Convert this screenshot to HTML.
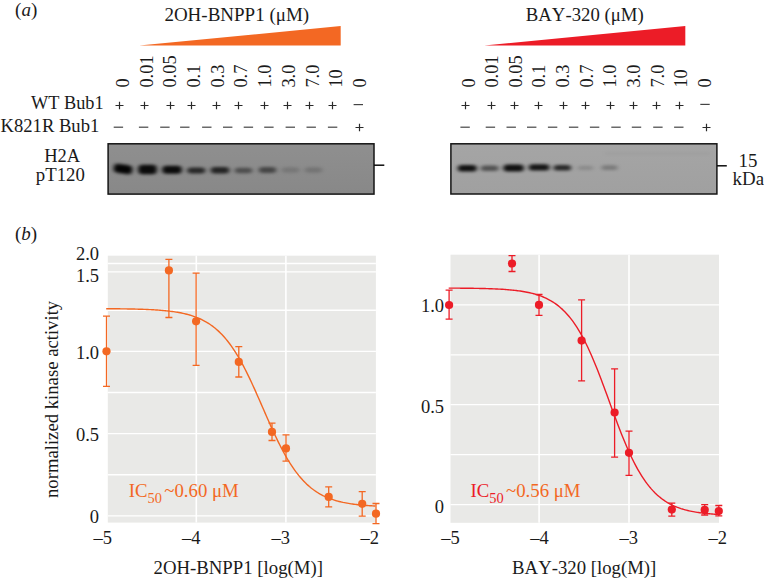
<!DOCTYPE html>
<html><head><meta charset="utf-8"><style>
html,body{margin:0;padding:0;background:#fff;}
svg{display:block;font-family:"Liberation Serif", serif;font-kerning:none;}
</style></head><body>
<svg width="764" height="578" viewBox="0 0 764 578">
<text x="15.10" y="15.80" font-size="19" text-anchor="start" fill="#1a1a1a" >(<tspan font-style="italic">a</tspan>)</text>
<text x="164.40" y="20.90" font-size="19" text-anchor="start" fill="#1a1a1a" >2OH-BNPP1 (μM)</text>
<text x="525.80" y="20.60" font-size="18.75" text-anchor="start" fill="#1a1a1a" >BAY-320 (μM)</text>
<polygon points="139.2,45.5 340.7,26 340.7,45.5" fill="#f36823"/>
<polygon points="484.2,45.5 685.3,26 685.3,45.5" fill="#ec1c27"/>
<text transform="translate(128.80,87.60) rotate(-90)" font-size="18.4" fill="#1a1a1a">0</text>
<text transform="translate(474.50,87.60) rotate(-90)" font-size="18.4" fill="#1a1a1a">0</text>
<text transform="translate(152.52,87.60) rotate(-90)" font-size="18.4" fill="#1a1a1a">0.01</text>
<text transform="translate(498.14,87.60) rotate(-90)" font-size="18.4" fill="#1a1a1a">0.01</text>
<text transform="translate(176.24,87.60) rotate(-90)" font-size="18.4" fill="#1a1a1a">0.05</text>
<text transform="translate(521.78,87.60) rotate(-90)" font-size="18.4" fill="#1a1a1a">0.05</text>
<text transform="translate(199.96,87.60) rotate(-90)" font-size="18.4" fill="#1a1a1a">0.1</text>
<text transform="translate(545.42,87.60) rotate(-90)" font-size="18.4" fill="#1a1a1a">0.1</text>
<text transform="translate(223.68,87.60) rotate(-90)" font-size="18.4" fill="#1a1a1a">0.3</text>
<text transform="translate(569.06,87.60) rotate(-90)" font-size="18.4" fill="#1a1a1a">0.3</text>
<text transform="translate(247.40,87.60) rotate(-90)" font-size="18.4" fill="#1a1a1a">0.7</text>
<text transform="translate(592.70,87.60) rotate(-90)" font-size="18.4" fill="#1a1a1a">0.7</text>
<text transform="translate(271.12,87.60) rotate(-90)" font-size="18.4" fill="#1a1a1a">1.0</text>
<text transform="translate(616.34,87.60) rotate(-90)" font-size="18.4" fill="#1a1a1a">1.0</text>
<text transform="translate(294.84,87.60) rotate(-90)" font-size="18.4" fill="#1a1a1a">3.0</text>
<text transform="translate(639.98,87.60) rotate(-90)" font-size="18.4" fill="#1a1a1a">3.0</text>
<text transform="translate(318.56,87.60) rotate(-90)" font-size="18.4" fill="#1a1a1a">7.0</text>
<text transform="translate(663.62,87.60) rotate(-90)" font-size="18.4" fill="#1a1a1a">7.0</text>
<text transform="translate(342.28,87.60) rotate(-90)" font-size="18.4" fill="#1a1a1a">10</text>
<text transform="translate(687.26,87.60) rotate(-90)" font-size="18.4" fill="#1a1a1a">10</text>
<text transform="translate(366.00,87.60) rotate(-90)" font-size="18.4" fill="#1a1a1a">0</text>
<text transform="translate(710.90,87.60) rotate(-90)" font-size="18.4" fill="#1a1a1a">0</text>
<path d="M115.50 105.50H123.50M119.50 101.70V109.30" stroke="#2a2a2a" stroke-width="1.2" fill="none"/>
<path d="M140.50 105.50H148.50M144.50 101.70V109.30" stroke="#2a2a2a" stroke-width="1.2" fill="none"/>
<path d="M166.50 105.50H174.50M170.50 101.70V109.30" stroke="#2a2a2a" stroke-width="1.2" fill="none"/>
<path d="M187.50 105.50H195.50M191.50 101.70V109.30" stroke="#2a2a2a" stroke-width="1.2" fill="none"/>
<path d="M212.50 105.50H220.50M216.50 101.70V109.30" stroke="#2a2a2a" stroke-width="1.2" fill="none"/>
<path d="M234.50 105.50H242.50M238.50 101.70V109.30" stroke="#2a2a2a" stroke-width="1.2" fill="none"/>
<path d="M260.50 105.50H268.50M264.50 101.70V109.30" stroke="#2a2a2a" stroke-width="1.2" fill="none"/>
<path d="M283.50 105.50H291.50M287.50 101.70V109.30" stroke="#2a2a2a" stroke-width="1.2" fill="none"/>
<path d="M305.50 105.50H313.50M309.50 101.70V109.30" stroke="#2a2a2a" stroke-width="1.2" fill="none"/>
<path d="M328.50 105.50H336.50M332.50 101.70V109.30" stroke="#2a2a2a" stroke-width="1.2" fill="none"/>
<path d="M353.60 104.60H363.00" stroke="#444" stroke-width="1.2" fill="none"/>
<path d="M113.70 127.20H123.10" stroke="#444" stroke-width="1.2" fill="none"/>
<path d="M138.90 127.20H148.30" stroke="#444" stroke-width="1.2" fill="none"/>
<path d="M160.20 127.20H169.60" stroke="#444" stroke-width="1.2" fill="none"/>
<path d="M180.10 127.20H189.50" stroke="#444" stroke-width="1.2" fill="none"/>
<path d="M202.10 127.20H211.50" stroke="#444" stroke-width="1.2" fill="none"/>
<path d="M223.00 127.20H232.40" stroke="#444" stroke-width="1.2" fill="none"/>
<path d="M243.70 127.20H253.10" stroke="#444" stroke-width="1.2" fill="none"/>
<path d="M264.20 127.20H273.60" stroke="#444" stroke-width="1.2" fill="none"/>
<path d="M285.60 127.20H295.00" stroke="#444" stroke-width="1.2" fill="none"/>
<path d="M306.50 127.20H315.90" stroke="#444" stroke-width="1.2" fill="none"/>
<path d="M327.90 127.20H337.30" stroke="#444" stroke-width="1.2" fill="none"/>
<path d="M355.50 127.50H363.50M359.50 123.70V131.30" stroke="#2a2a2a" stroke-width="1.2" fill="none"/>
<path d="M461.50 105.50H469.50M465.50 101.70V109.30" stroke="#2a2a2a" stroke-width="1.2" fill="none"/>
<path d="M487.50 105.50H495.50M491.50 101.70V109.30" stroke="#2a2a2a" stroke-width="1.2" fill="none"/>
<path d="M510.50 105.50H518.50M514.50 101.70V109.30" stroke="#2a2a2a" stroke-width="1.2" fill="none"/>
<path d="M534.50 105.50H542.50M538.50 101.70V109.30" stroke="#2a2a2a" stroke-width="1.2" fill="none"/>
<path d="M559.50 105.50H567.50M563.50 101.70V109.30" stroke="#2a2a2a" stroke-width="1.2" fill="none"/>
<path d="M581.50 105.50H589.50M585.50 101.70V109.30" stroke="#2a2a2a" stroke-width="1.2" fill="none"/>
<path d="M606.50 105.50H614.50M610.50 101.70V109.30" stroke="#2a2a2a" stroke-width="1.2" fill="none"/>
<path d="M629.50 105.50H637.50M633.50 101.70V109.30" stroke="#2a2a2a" stroke-width="1.2" fill="none"/>
<path d="M652.50 105.50H660.50M656.50 101.70V109.30" stroke="#2a2a2a" stroke-width="1.2" fill="none"/>
<path d="M675.50 105.50H683.50M679.50 101.70V109.30" stroke="#2a2a2a" stroke-width="1.2" fill="none"/>
<path d="M700.30 104.40H709.70" stroke="#444" stroke-width="1.2" fill="none"/>
<path d="M460.40 127.20H469.80" stroke="#444" stroke-width="1.2" fill="none"/>
<path d="M485.70 127.20H495.10" stroke="#444" stroke-width="1.2" fill="none"/>
<path d="M506.50 127.20H515.90" stroke="#444" stroke-width="1.2" fill="none"/>
<path d="M527.00 127.20H536.40" stroke="#444" stroke-width="1.2" fill="none"/>
<path d="M547.90 127.20H557.30" stroke="#444" stroke-width="1.2" fill="none"/>
<path d="M568.90 127.20H578.30" stroke="#444" stroke-width="1.2" fill="none"/>
<path d="M589.90 127.20H599.30" stroke="#444" stroke-width="1.2" fill="none"/>
<path d="M611.30 127.20H620.70" stroke="#444" stroke-width="1.2" fill="none"/>
<path d="M631.80 127.20H641.20" stroke="#444" stroke-width="1.2" fill="none"/>
<path d="M653.20 127.20H662.60" stroke="#444" stroke-width="1.2" fill="none"/>
<path d="M674.10 127.20H683.50" stroke="#444" stroke-width="1.2" fill="none"/>
<path d="M702.50 127.50H710.50M706.50 123.70V131.30" stroke="#2a2a2a" stroke-width="1.2" fill="none"/>
<text x="31.00" y="108.70" font-size="18.3" text-anchor="start" fill="#1a1a1a" >WT Bub1</text>
<text x="0.60" y="131.70" font-size="18.6" text-anchor="start" fill="#1a1a1a" >K821R Bub1</text>
<text x="44.20" y="162.20" font-size="18.5" text-anchor="start" fill="#1a1a1a" >H2A</text>
<text x="35.80" y="180.60" font-size="18.8" text-anchor="start" fill="#1a1a1a" >pT120</text>
<defs><linearGradient id="g1" x1="0" y1="0" x2="0" y2="1"><stop offset="0" stop-color="#8f8f8f"/><stop offset="1" stop-color="#888888"/></linearGradient><filter id="f1" x="-50%" y="-100%" width="200%" height="300%"><feGaussianBlur stdDeviation="2.1 1.6"/></filter></defs>
<rect x="108.1" y="143.8" width="265.9" height="50.29999999999998" fill="url(#g1)"/>
<rect x="113.70" y="164.50" width="18.60" height="9.10" rx="4" fill="#000" fill-opacity="0.97" transform="rotate(8 123.00 169.05)" filter="url(#f1)"/>
<rect x="138.20" y="164.70" width="18.60" height="9.60" rx="4" fill="#000" fill-opacity="0.92" transform="rotate(0 147.50 169.50)" filter="url(#f1)"/>
<rect x="162.20" y="165.70" width="19.60" height="8.10" rx="4" fill="#000" fill-opacity="0.92" transform="rotate(0 172.00 169.75)" filter="url(#f1)"/>
<rect x="187.20" y="167.50" width="18.10" height="6.10" rx="4" fill="#000" fill-opacity="0.72" transform="rotate(0 196.25 170.55)" filter="url(#f1)"/>
<rect x="210.70" y="167.00" width="18.60" height="6.60" rx="4" fill="#000" fill-opacity="0.75" transform="rotate(0 220.00 170.30)" filter="url(#f1)"/>
<rect x="234.70" y="167.70" width="17.60" height="5.60" rx="4" fill="#000" fill-opacity="0.45" transform="rotate(0 243.50 170.50)" filter="url(#f1)"/>
<rect x="258.70" y="167.00" width="17.60" height="6.10" rx="4" fill="#000" fill-opacity="0.5" transform="rotate(0 267.50 170.05)" filter="url(#f1)"/>
<rect x="281.70" y="167.20" width="17.60" height="5.50" rx="4" fill="#000" fill-opacity="0.15" transform="rotate(0 290.50 169.95)" filter="url(#f1)"/>
<rect x="304.70" y="167.20" width="17.60" height="5.50" rx="4" fill="#000" fill-opacity="0.17" transform="rotate(0 313.50 169.95)" filter="url(#f1)"/>
<rect x="108.1" y="143.8" width="265.9" height="50.29999999999998" fill="none" stroke="#141414" stroke-width="1.5"/>
<path d="M374 165.2H384.3" stroke="#0d0d0d" stroke-width="1.5"/>
<defs><linearGradient id="g2" x1="0" y1="0" x2="0" y2="1"><stop offset="0" stop-color="#a5a5a5"/><stop offset="1" stop-color="#a0a0a0"/></linearGradient><filter id="f2" x="-50%" y="-100%" width="200%" height="300%"><feGaussianBlur stdDeviation="2.1 1.6"/></filter></defs>
<rect x="450.9" y="143.8" width="266.0" height="50.19999999999999" fill="url(#g2)"/>
<rect x="457.70" y="164.90" width="19.10" height="6.70" rx="4" fill="#000" fill-opacity="0.9" transform="rotate(0 467.25 168.25)" filter="url(#f2)"/>
<rect x="480.70" y="165.50" width="17.90" height="5.60" rx="4" fill="#000" fill-opacity="0.5" transform="rotate(0 489.65 168.30)" filter="url(#f2)"/>
<rect x="503.30" y="164.40" width="20.60" height="7.20" rx="4" fill="#000" fill-opacity="0.9" transform="rotate(0 513.60 168.00)" filter="url(#f2)"/>
<rect x="528.70" y="164.30" width="20.80" height="6.20" rx="4" fill="#000" fill-opacity="0.88" transform="rotate(0 539.10 167.40)" filter="url(#f2)"/>
<rect x="553.50" y="164.90" width="17.60" height="5.70" rx="4" fill="#000" fill-opacity="0.76" transform="rotate(0 562.30 167.75)" filter="url(#f2)"/>
<rect x="577.70" y="165.70" width="15.60" height="4.40" rx="4" fill="#000" fill-opacity="0.15" transform="rotate(0 585.50 167.90)" filter="url(#f2)"/>
<rect x="601.30" y="165.20" width="16.30" height="4.90" rx="4" fill="#000" fill-opacity="0.25" transform="rotate(0 609.45 167.65)" filter="url(#f2)"/>
<rect x="450.9" y="143.8" width="266.0" height="50.19999999999999" fill="none" stroke="#141414" stroke-width="1.5"/>
<rect x="605" y="152.5" width="105" height="2" fill="#000" fill-opacity="0.05" filter="url(#f2)"/>
<path d="M717 165.8H726.8" stroke="#0d0d0d" stroke-width="1.5"/>
<text x="738.60" y="167.00" font-size="18.9" text-anchor="start" fill="#1a1a1a" >15</text>
<text x="732.60" y="184.90" font-size="18.9" text-anchor="start" fill="#1a1a1a" >kDa</text>
<text x="15.00" y="240.30" font-size="19" text-anchor="start" fill="#1a1a1a" >(<tspan font-style="italic">b</tspan>)</text>
<rect x="107.8" y="255.7" width="268.09999999999997" height="266.90000000000003" fill="#e9e9e7"/>
<path d="M107.8 515.9H375.9" stroke="#fff" stroke-width="1.35"/>
<path d="M107.8 474.7H375.9" stroke="#fff" stroke-width="1.35"/>
<path d="M107.8 433.6H375.9" stroke="#fff" stroke-width="1.35"/>
<path d="M107.8 392.5H375.9" stroke="#fff" stroke-width="1.35"/>
<path d="M107.8 351.3H375.9" stroke="#fff" stroke-width="1.35"/>
<path d="M107.8 310.2H375.9" stroke="#fff" stroke-width="1.35"/>
<path d="M107.8 271.9H375.9" stroke="#fff" stroke-width="1.35"/>
<path d="M107.8 263.5H375.9" stroke="#fff" stroke-width="1.35"/>
<path d="M196.3 255.7V522.6" stroke="#fff" stroke-width="1.6"/>
<path d="M285.9 255.7V522.6" stroke="#fff" stroke-width="1.6"/>
<polyline points="106.18,308.69 107.53,308.70 108.88,308.71 110.22,308.72 111.57,308.73 112.91,308.75 114.26,308.76 115.61,308.77 116.95,308.78 118.30,308.80 119.64,308.82 120.99,308.83 122.34,308.85 123.68,308.87 125.03,308.89 126.38,308.91 127.72,308.93 129.07,308.96 130.41,308.98 131.76,309.01 133.11,309.04 134.45,309.07 135.80,309.11 137.14,309.14 138.49,309.18 139.84,309.22 141.18,309.26 142.53,309.31 143.87,309.36 145.22,309.41 146.57,309.46 147.91,309.52 149.26,309.58 150.60,309.65 151.95,309.72 153.30,309.79 154.64,309.87 155.99,309.95 157.34,310.04 158.68,310.14 160.03,310.24 161.37,310.35 162.72,310.46 164.07,310.58 165.41,310.71 166.76,310.85 168.10,311.00 169.45,311.15 170.80,311.32 172.14,311.49 173.49,311.68 174.83,311.87 176.18,312.08 177.53,312.31 178.87,312.54 180.22,312.79 181.56,313.06 182.91,313.34 184.26,313.64 185.60,313.96 186.95,314.30 188.29,314.66 189.64,315.04 190.99,315.44 192.33,315.87 193.68,316.32 195.03,316.80 196.37,317.31 197.72,317.84 199.06,318.41 200.41,319.01 201.76,319.64 203.10,320.32 204.45,321.03 205.79,321.77 207.14,322.56 208.49,323.40 209.83,324.28 211.18,325.20 212.52,326.18 213.87,327.21 215.22,328.29 216.56,329.42 217.91,330.62 219.25,331.87 220.60,333.18 221.95,334.56 223.29,336.00 224.64,337.51 225.99,339.08 227.33,340.73 228.68,342.45 230.02,344.23 231.37,346.10 232.72,348.03 234.06,350.04 235.41,352.12 236.75,354.28 238.10,356.51 239.45,358.81 240.79,361.19 242.14,363.63 243.48,366.15 244.83,368.73 246.18,371.38 247.52,374.08 248.87,376.85 250.21,379.67 251.56,382.54 252.91,385.45 254.25,388.41 255.60,391.40 256.94,394.43 258.29,397.48 259.64,400.55 260.98,403.63 262.33,406.72 263.68,409.81 265.02,412.90 266.37,415.98 267.71,419.05 269.06,422.09 270.41,425.11 271.75,428.09 273.10,431.04 274.44,433.94 275.79,436.79 277.14,439.60 278.48,442.35 279.83,445.04 281.17,447.66 282.52,450.23 283.87,452.72 285.21,455.15 286.56,457.50 287.90,459.79 289.25,462.00 290.60,464.13 291.94,466.19 293.29,468.18 294.64,470.09 295.98,471.93 297.33,473.70 298.67,475.40 300.02,477.02 301.37,478.58 302.71,480.07 304.06,481.49 305.40,482.85 306.75,484.14 308.10,485.38 309.44,486.56 310.79,487.68 312.13,488.74 313.48,489.75 314.83,490.71 316.17,491.63 317.52,492.49 318.86,493.31 320.21,494.09 321.56,494.83 322.90,495.53 324.25,496.19 325.60,496.81 326.94,497.40 328.29,497.96 329.63,498.49 330.98,498.99 332.33,499.46 333.67,499.90 335.02,500.32 336.36,500.72 337.71,501.09 339.06,501.45 340.40,501.78 341.75,502.09 343.09,502.39 344.44,502.66 345.79,502.93 347.13,503.17 348.48,503.41 349.82,503.63 351.17,503.83 352.52,504.03 353.86,504.21 355.21,504.38 356.55,504.54 357.90,504.69 359.25,504.84 360.59,504.97 361.94,505.10 363.29,505.22 364.63,505.33 365.98,505.44 367.32,505.54 368.67,505.63 370.02,505.72 371.36,505.80 372.71,505.88 374.05,505.95 375.40,506.02" fill="none" stroke="#f36823" stroke-width="1.4"/>
<path d="M106.5 316.2V386.4M103.0 316.2H110.0M103.0 386.4H110.0" stroke="#f36823" stroke-width="1.3" fill="none"/>
<circle cx="106.5" cy="351.3" r="4.1" fill="#f36823"/>
<path d="M168.9 259.3V317.5M165.4 259.3H172.4M165.4 317.5H172.4" stroke="#f36823" stroke-width="1.3" fill="none"/>
<circle cx="168.9" cy="270.4" r="4.1" fill="#f36823"/>
<path d="M196.1 273.1V365.4M192.6 273.1H199.6M192.6 365.4H199.6" stroke="#f36823" stroke-width="1.3" fill="none"/>
<circle cx="196.1" cy="321.3" r="4.1" fill="#f36823"/>
<path d="M238.8 346.7V377M235.3 346.7H242.3M235.3 377H242.3" stroke="#f36823" stroke-width="1.3" fill="none"/>
<circle cx="238.8" cy="361.9" r="4.1" fill="#f36823"/>
<path d="M272 423.2V440.5M268.5 423.2H275.5M268.5 440.5H275.5" stroke="#f36823" stroke-width="1.3" fill="none"/>
<circle cx="272" cy="431.9" r="4.1" fill="#f36823"/>
<path d="M286 434.9V461.2M282.5 434.9H289.5M282.5 461.2H289.5" stroke="#f36823" stroke-width="1.3" fill="none"/>
<circle cx="286" cy="448.4" r="4.1" fill="#f36823"/>
<path d="M328.7 486.8V506.8M325.2 486.8H332.2M325.2 506.8H332.2" stroke="#f36823" stroke-width="1.3" fill="none"/>
<circle cx="328.7" cy="496.9" r="4.1" fill="#f36823"/>
<path d="M362.2 491.6V516.2M358.7 491.6H365.7M358.7 516.2H365.7" stroke="#f36823" stroke-width="1.3" fill="none"/>
<circle cx="362.2" cy="503.8" r="4.1" fill="#f36823"/>
<path d="M376 503.5V523.7M372.5 503.5H379.5M372.5 523.7H379.5" stroke="#f36823" stroke-width="1.3" fill="none"/>
<circle cx="376" cy="513.7" r="4.1" fill="#f36823"/>
<rect x="450.5" y="254.7" width="268.5" height="268.09999999999997" fill="#e9e9e7"/>
<path d="M450.5 504.6H719" stroke="#fff" stroke-width="1.35"/>
<path d="M450.5 454.6H719" stroke="#fff" stroke-width="1.35"/>
<path d="M450.5 404.6H719" stroke="#fff" stroke-width="1.35"/>
<path d="M450.5 354.8H719" stroke="#fff" stroke-width="1.35"/>
<path d="M450.5 304.9H719" stroke="#fff" stroke-width="1.35"/>
<path d="M539.1 254.7V522.8" stroke="#fff" stroke-width="1.6"/>
<path d="M629 254.7V522.8" stroke="#fff" stroke-width="1.6"/>
<polyline points="448.68,288.10 450.03,288.11 451.38,288.11 452.73,288.12 454.08,288.13 455.43,288.14 456.79,288.15 458.14,288.16 459.49,288.17 460.84,288.18 462.19,288.19 463.54,288.20 464.89,288.22 466.24,288.23 467.59,288.25 468.94,288.26 470.29,288.28 471.64,288.30 472.99,288.32 474.34,288.34 475.69,288.36 477.04,288.39 478.39,288.41 479.75,288.44 481.10,288.47 482.45,288.50 483.80,288.53 485.15,288.57 486.50,288.61 487.85,288.65 489.20,288.69 490.55,288.74 491.90,288.79 493.25,288.84 494.60,288.90 495.95,288.96 497.30,289.02 498.65,289.09 500.00,289.16 501.35,289.24 502.71,289.32 504.06,289.41 505.41,289.50 506.76,289.60 508.11,289.71 509.46,289.83 510.81,289.95 512.16,290.08 513.51,290.21 514.86,290.36 516.21,290.52 517.56,290.69 518.91,290.86 520.26,291.05 521.61,291.26 522.96,291.47 524.31,291.70 525.67,291.95 527.02,292.21 528.37,292.49 529.72,292.78 531.07,293.09 532.42,293.43 533.77,293.78 535.12,294.16 536.47,294.57 537.82,294.99 539.17,295.45 540.52,295.93 541.87,296.45 543.22,296.99 544.57,297.57 545.92,298.19 547.27,298.84 548.63,299.53 549.98,300.26 551.33,301.04 552.68,301.87 554.03,302.74 555.38,303.66 556.73,304.64 558.08,305.67 559.43,306.76 560.78,307.91 562.13,309.13 563.48,310.41 564.83,311.76 566.18,313.18 567.53,314.68 568.88,316.25 570.23,317.90 571.59,319.63 572.94,321.44 574.29,323.34 575.64,325.33 576.99,327.41 578.34,329.58 579.69,331.83 581.04,334.18 582.39,336.63 583.74,339.16 585.09,341.79 586.44,344.51 587.79,347.32 589.14,350.22 590.49,353.21 591.84,356.28 593.19,359.43 594.55,362.66 595.90,365.96 597.25,369.33 598.60,372.77 599.95,376.26 601.30,379.80 602.65,383.39 604.00,387.01 605.35,390.67 606.70,394.35 608.05,398.04 609.40,401.75 610.75,405.45 612.10,409.15 613.45,412.83 614.80,416.48 616.16,420.11 617.51,423.70 618.86,427.24 620.21,430.74 621.56,434.17 622.91,437.54 624.26,440.85 625.61,444.08 626.96,447.23 628.31,450.31 629.66,453.30 631.01,456.20 632.36,459.01 633.71,461.74 635.06,464.37 636.41,466.91 637.76,469.35 639.12,471.71 640.47,473.97 641.82,476.14 643.17,478.22 644.52,480.21 645.87,482.11 647.22,483.93 648.57,485.66 649.92,487.32 651.27,488.89 652.62,490.39 653.97,491.81 655.32,493.16 656.67,494.45 658.02,495.66 659.37,496.82 660.72,497.91 662.08,498.94 663.43,499.92 664.78,500.85 666.13,501.72 667.48,502.55 668.83,503.32 670.18,504.06 671.53,504.75 672.88,505.41 674.23,506.02 675.58,506.60 676.93,507.15 678.28,507.66 679.63,508.15 680.98,508.61 682.33,509.03 683.68,509.44 685.04,509.82 686.39,510.17 687.74,510.51 689.09,510.82 690.44,511.12 691.79,511.40 693.14,511.66 694.49,511.90 695.84,512.13 697.19,512.35 698.54,512.55 699.89,512.74 701.24,512.92 702.59,513.09 703.94,513.25 705.29,513.39 706.64,513.53 708.00,513.66 709.35,513.78 710.70,513.90 712.05,514.01 713.40,514.11 714.75,514.20 716.10,514.29 717.45,514.37 718.80,514.45" fill="none" stroke="#ec1c27" stroke-width="1.4"/>
<path d="M449.1 290.2V319.2M445.6 290.2H452.6M445.6 319.2H452.6" stroke="#ec1c27" stroke-width="1.3" fill="none"/>
<circle cx="449.1" cy="305" r="4.1" fill="#ec1c27"/>
<path d="M512 255.6V271.5M508.5 255.6H515.5M508.5 271.5H515.5" stroke="#ec1c27" stroke-width="1.3" fill="none"/>
<circle cx="512" cy="263.5" r="4.1" fill="#ec1c27"/>
<path d="M539 294.5V315.3M535.5 294.5H542.5M535.5 315.3H542.5" stroke="#ec1c27" stroke-width="1.3" fill="none"/>
<circle cx="539" cy="304.9" r="4.1" fill="#ec1c27"/>
<path d="M581.6 299.9V380.8M578.1 299.9H585.1M578.1 380.8H585.1" stroke="#ec1c27" stroke-width="1.3" fill="none"/>
<circle cx="581.6" cy="340.6" r="4.1" fill="#ec1c27"/>
<path d="M614.6 368.8V457.2M611.1 368.8H618.1M611.1 457.2H618.1" stroke="#ec1c27" stroke-width="1.3" fill="none"/>
<circle cx="614.6" cy="412.6" r="4.1" fill="#ec1c27"/>
<path d="M629 431.1V475.3M625.5 431.1H632.5M625.5 475.3H632.5" stroke="#ec1c27" stroke-width="1.3" fill="none"/>
<circle cx="629" cy="452.8" r="4.1" fill="#ec1c27"/>
<path d="M671.8 503.2V516.2M668.3 503.2H675.3M668.3 516.2H675.3" stroke="#ec1c27" stroke-width="1.3" fill="none"/>
<circle cx="671.8" cy="509.6" r="4.1" fill="#ec1c27"/>
<path d="M704.7 504.6V515M701.2 504.6H708.2M701.2 515H708.2" stroke="#ec1c27" stroke-width="1.3" fill="none"/>
<circle cx="704.7" cy="509.9" r="4.1" fill="#ec1c27"/>
<path d="M718.8 505.5V515.8M715.3 505.5H722.3M715.3 515.8H722.3" stroke="#ec1c27" stroke-width="1.3" fill="none"/>
<circle cx="718.8" cy="511.1" r="4.1" fill="#ec1c27"/>
<text x="99.00" y="260.30" font-size="18.5" text-anchor="end" fill="#1a1a1a" >2.0</text>
<text x="99.00" y="281.90" font-size="18.5" text-anchor="end" fill="#1a1a1a" >1.5</text>
<text x="99.00" y="358.50" font-size="18.5" text-anchor="end" fill="#1a1a1a" >1.0</text>
<text x="99.00" y="440.50" font-size="18.5" text-anchor="end" fill="#1a1a1a" >0.5</text>
<text x="99.00" y="522.70" font-size="18.5" text-anchor="end" fill="#1a1a1a" >0</text>
<text x="444.00" y="312.30" font-size="18.5" text-anchor="end" fill="#1a1a1a" >1.0</text>
<text x="444.00" y="412.50" font-size="18.5" text-anchor="end" fill="#1a1a1a" >0.5</text>
<text x="444.00" y="512.70" font-size="18.5" text-anchor="end" fill="#1a1a1a" >0</text>
<text x="93.60" y="543.60" font-size="18.5" text-anchor="start" fill="#1a1a1a" >–5</text>
<text x="182.00" y="543.60" font-size="18.5" text-anchor="start" fill="#1a1a1a" >–4</text>
<text x="271.40" y="543.60" font-size="18.5" text-anchor="start" fill="#1a1a1a" >–3</text>
<text x="360.40" y="543.60" font-size="18.5" text-anchor="start" fill="#1a1a1a" >–2</text>
<text x="441.30" y="543.60" font-size="18.5" text-anchor="start" fill="#1a1a1a" >–5</text>
<text x="530.30" y="543.60" font-size="18.5" text-anchor="start" fill="#1a1a1a" >–4</text>
<text x="619.50" y="543.60" font-size="18.5" text-anchor="start" fill="#1a1a1a" >–3</text>
<text x="708.40" y="543.60" font-size="18.5" text-anchor="start" fill="#1a1a1a" >–2</text>
<text transform="translate(58.00,498.00) rotate(-90)" font-size="18.7" fill="#1a1a1a">normalized kinase activity</text>
<text x="153.50" y="574.20" font-size="18.8" text-anchor="start" fill="#1a1a1a" >2OH-BNPP1 [log(M)]</text>
<text x="512.10" y="574.20" font-size="18.75" text-anchor="start" fill="#1a1a1a" >BAY-320 [log(M)]</text>
<text x="128.70" y="497.10" font-size="18.8" text-anchor="start" fill="#f36823" >IC<tspan font-size="14.4" dy="6.1">50</tspan><tspan dy="-6.1" dx="-2.3"> ~0.60 μM</tspan></text>
<text x="470.50" y="497.30" font-size="18.8" text-anchor="start" fill="#ec1c27" >IC<tspan font-size="14.4" dy="6.1">50</tspan><tspan dy="-6.1" dx="-2.3" fill="#f36823"> ~0.56 μM</tspan></text>
</svg>
</body></html>
